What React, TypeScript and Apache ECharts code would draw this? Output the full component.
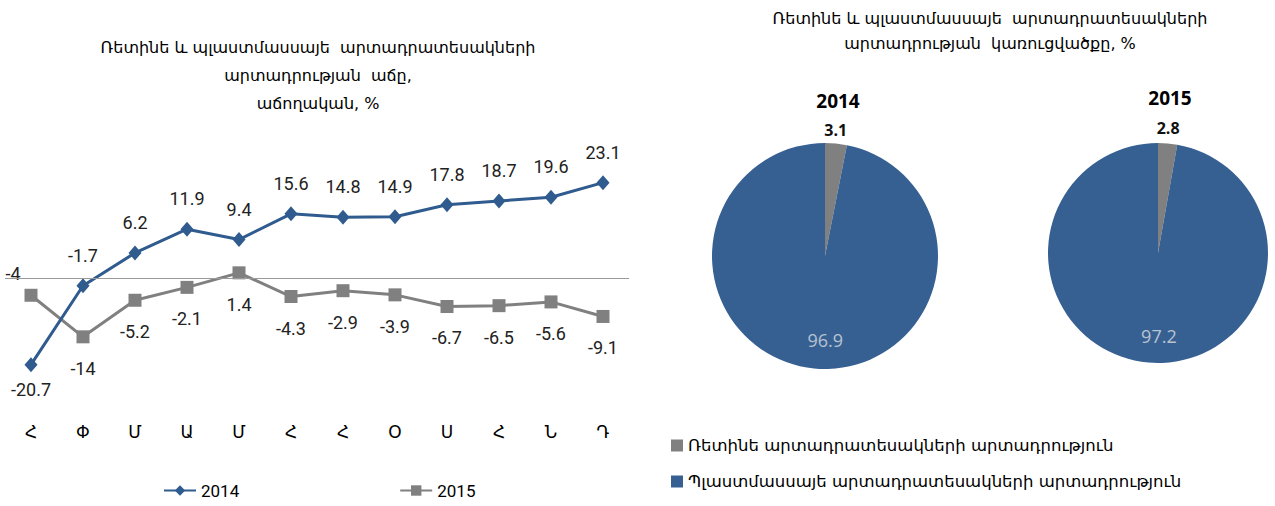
import React, { useEffect, useRef } from "react";
import * as echarts from "echarts";

const months = ["Հ", "Փ", "Մ", "Ա", "Մ", "Հ", "Հ", "Օ", "Ս", "Հ", "Ն", "Դ"];
const growth2014 = [-20.7, -1.7, 6.2, 11.9, 9.4, 15.6, 14.8, 14.9, 17.8, 18.7, 19.6, 23.1];
const growth2015 = [-4, -14, -5.2, -2.1, 1.4, -4.3, -2.9, -3.9, -6.7, -6.5, -5.6, -9.1];
const lineYears = ["2014", "2015"];
const pieYears = ["2014", "2015"];
const rubberShare = [3.1, 2.8];
const plasticShare = [96.9, 97.2];
const sliceNames = [
  "Ռետինե արտադրատեսակների արտադրություն",
  "Պլաստմասսայե արտադրատեսակների արտադրություն",
];
const leftTitle = "Ռետինե և պլաստմասսայե  արտադրատեսակների\nարտադրության  աճը,\nաճողական, %";
const rightTitle = "Ռետինե և պլաստմասսայե  արտադրատեսակների\nարտադրության  կառուցվածքը, %";

const ARM = "'DejaVu Sans', sans-serif";
const NARROW = "'Liberation Sans Narrow', 'Roboto', sans-serif";
const BLUE = "#2f5b8e";
const PIE_BLUE = "#366092";
const GRAY = "#808080";

export default function App() {
  const ref = useRef<HTMLDivElement>(null);
  useEffect(() => {
    if (!ref.current) return;
    const chart = echarts.init(ref.current, null, { renderer: "svg" });
    const pieCenters = [
      [825, 256],
      [1158, 253],
    ];
    const pieRadii = [113, 110];
    const pieSeries = pieYears.map((y, i) => ({
      type: "pie",
      name: y,
      center: pieCenters[i],
      radius: pieRadii[i],
      startAngle: 90,
      clockwise: true,
      silent: true,
      emphasis: { disabled: true },
      itemStyle: { borderWidth: 0 },
      label: { show: true, position: "inside", formatter: "{c}" },
      labelLine: { show: false },
      labelLayout: (p: any) => (p.dataIndex === 0 ? { dx: 5, dy: -67 } : { dx: 6, dy: 25 }),
      data: [
        {
          name: sliceNames[0],
          value: rubberShare[i],
          itemStyle: { color: GRAY },
          label: { color: "#111", fontSize: 16, fontWeight: "bold", fontFamily: "'Open Sans', sans-serif" },
        },
        {
          name: sliceNames[1],
          value: plasticShare[i],
          itemStyle: { color: PIE_BLUE },
          label: { color: "#b8c2d0", fontSize: 18, fontFamily: "'Open Sans', sans-serif" },
        },
      ],
    }));

    const labelBase = { show: true, fontSize: 18, color: "#222", fontFamily: NARROW };

    const option: any = {
      animation: false,
      backgroundColor: "#fff",
      graphic: [
        {
          type: "text",
          x: 318,
          y: 33,
          style: {
            text: leftTitle,
            textAlign: "center",
            font: `16px ${ARM}`,
            lineHeight: 28,
            fill: "#000",
          },
        },
        {
          type: "text",
          x: 990,
          y: 6,
          style: {
            text: rightTitle,
            textAlign: "center",
            font: `16px ${ARM}`,
            lineHeight: 25,
            fill: "#000",
          },
        },
        {
          type: "text",
          x: 838,
          y: 101,
          style: {
            text: pieYears[0],
            textAlign: "center",
            textVerticalAlign: "middle",
            font: `bold 19px 'Open Sans', sans-serif`,
            fill: "#000",
          },
        },
        {
          type: "text",
          x: 1170,
          y: 98,
          style: {
            text: pieYears[1],
            textAlign: "center",
            textVerticalAlign: "middle",
            font: `bold 19px 'Open Sans', sans-serif`,
            fill: "#000",
          },
        },
      ],
      legend: [
        {
          data: lineYears,
          left: 163,
          top: 482,
          padding: 0,
          itemGap: 160,
          itemWidth: 32,
          itemHeight: 13,
          textStyle: { fontSize: 17, color: "#000", fontFamily: NARROW },
        },
        {
          data: sliceNames,
          orient: "vertical",
          left: 666,
          top: 432,
          itemGap: 19,
          itemWidth: 12,
          itemHeight: 12,
          icon: "rect",
          textStyle: { fontSize: 16.5, color: "#000", fontFamily: ARM },
        },
      ],
      grid: { left: 5, top: 154, width: 624, height: 249.3 },
      xAxis: {
        type: "category",
        data: months,
        boundaryGap: true,
        axisLine: { show: false },
        axisTick: { show: false },
        axisLabel: { margin: 20, fontSize: 17, color: "#000", fontFamily: ARM },
        splitLine: { show: false },
      },
      yAxis: {
        type: "value",
        min: -30,
        max: 30,
        show: false,
        splitLine: { show: false },
      },
      series: [
        {
          type: "line",
          name: lineYears[0],
          data: growth2014.map((v, i) => ({
            value: v,
            label: i === 0 ? { position: "bottom", distance: 8 } : undefined,
          })),
          symbol: "diamond",
          symbolSize: [13, 15],
          z: 3,
          itemStyle: { color: BLUE },
          lineStyle: { color: BLUE, width: 3 },
          label: { ...labelBase, position: "top", distance: 14 },
        },
        {
          type: "line",
          name: lineYears[1],
          data: growth2015.map((v, i) => ({
            value: v,
            label: i === 0 ? { position: "top", distance: 6, offset: [-18, 0] } : undefined,
          })),
          symbol: "rect",
          symbolSize: 13,
          z: 2,
          itemStyle: { color: GRAY },
          lineStyle: { color: GRAY, width: 3 },
          label: { ...labelBase, position: "bottom", distance: 16 },
          markLine: {
            silent: true,
            symbol: "none",
            label: { show: false },
            lineStyle: { color: "#9a9a9a", width: 1, type: "solid" },
            data: [{ yAxis: 0 }],
          },
        },
        ...pieSeries,
      ],
    };
    chart.setOption(option);
    return () => chart.dispose();
  }, []);
  return (
    <div
      ref={ref}
      style={{ position: "fixed", left: 0, top: 0, width: 1275, height: 506, background: "#fff" }}
    />
  );
}
